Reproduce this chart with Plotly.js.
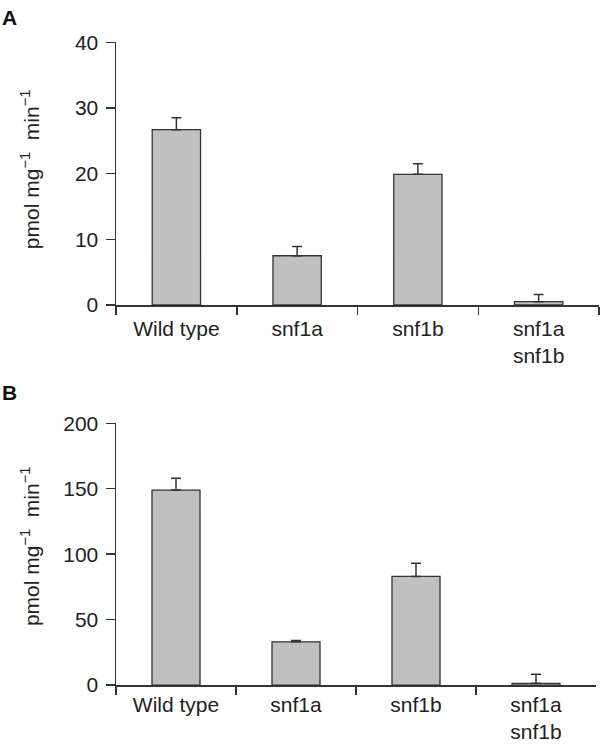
<!DOCTYPE html>
<html>
<head>
<meta charset="utf-8">
<script src="https://cdn.plot.ly/plotly-3.0.1.min.js"></script>
<style>html,body{margin:0;padding:0;background:#fff;}#chart{width:600px;height:745px;}</style>
</head>
<body>
<div id="chart"></div>
<script>
const categories = ["Wild type", "snf1a", "snf1b", "snf1a<br>snf1b"];
const valuesA = [26.7, 7.5, 19.9, 0.5];
const errorsA = [1.8, 1.4, 1.6, 1.1];
const valuesB = [149, 33, 83, 1.3];
const errorsB = [9, 1, 10, 7];
const yTicksA = [0, 10, 20, 30, 40];
const yTicksB = [0, 50, 100, 150, 200];
const yTitle = "pmol mg<sup>−1</sup>&nbsp; min<sup>−1</sup>";

const dark = "#333333";
const FAM = "Liberation Sans, Arial, sans-serif";
const font = {family: FAM, size: 21, color: "#222"};

function barTrace(vals, errs, xa, ya) {
  return {
    type: "bar", x: categories, y: vals, xaxis: xa, yaxis: ya,
    marker: {color: "#c0c0c0", line: {color: dark, width: 1.3}},
    error_y: {type: "data", symmetric: false, array: errs, arrayminus: errs.map(() => 0),
              color: dark, thickness: 1.5, width: 5},
    hoverinfo: "skip", showlegend: false
  };
}

const xCommon = {
  type: "category", range: [-0.5, 3.5], tickson: "boundaries", ticks: "outside",
  ticklen: 8, tickwidth: 1.5, tickcolor: dark, showline: true, linecolor: dark, linewidth: 1.5,
  showgrid: false, zeroline: false, tickfont: font, fixedrange: true
};
const yCommon = {
  ticks: "outside", ticklen: 9, tickwidth: 1.5, tickcolor: dark, showline: true, linecolor: dark,
  linewidth: 1.5, showgrid: false, zeroline: false, tickfont: font, tickmode: "array", fixedrange: true,
  ticklabelstandoff: 3
};

const layout = {
  width: 600, height: 745,
  margin: {l: 116, r: 1, t: 0, b: 0},
  paper_bgcolor: "#fff", plot_bgcolor: "#fff",
  bargap: 0.6,
  font: font,
  xaxis: Object.assign({}, xCommon, {domain: [0, 1], anchor: "y", ticklabelstandoff: 4}),
  yaxis: Object.assign({}, yCommon, {domain: [0.5906, 0.9432], range: [0, 40], tickvals: yTicksA, anchor: "x"}),
  xaxis2: Object.assign({}, xCommon, {domain: [0, 0.9938], anchor: "y2", ticklabelstandoff: 0}),
  yaxis2: Object.assign({}, yCommon, {domain: [0.0805, 0.4318], range: [0, 200], tickvals: yTicksB, anchor: "x2"}),
  annotations: [
    {text: "<b>A</b>", xref: "paper", yref: "paper", x: -0.2205, y: 0.9765, xanchor: "center", yanchor: "middle",
     showarrow: false, font: {family: FAM, size: 21, color: "#111"}},
    {text: "<b>B</b>", xref: "paper", yref: "paper", x: -0.2205, y: 0.4738, xanchor: "center", yanchor: "middle",
     showarrow: false, font: {family: FAM, size: 21, color: "#111"}},
    {text: yTitle, xref: "paper", yref: "paper", x: -0.178, y: 0.773, xanchor: "center", yanchor: "middle",
     textangle: -90, showarrow: false, font: font},
    {text: yTitle, xref: "paper", yref: "paper", x: -0.178, y: 0.267, xanchor: "center", yanchor: "middle",
     textangle: -90, showarrow: false, font: font}
  ]
};

Plotly.newPlot("chart", [barTrace(valuesA, errorsA, "x", "y"), barTrace(valuesB, errorsB, "x2", "y2")], layout,
  {staticPlot: true, displayModeBar: false});
</script>
</body>
</html>
